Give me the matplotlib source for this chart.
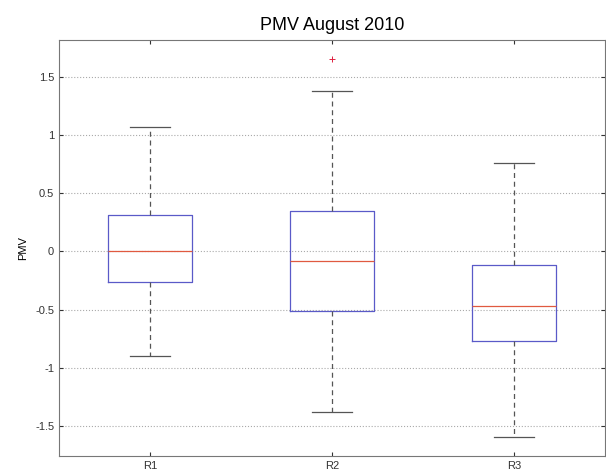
import matplotlib.pyplot as plt

plt.rcParams['font.family'] = ['Liberation Sans', 'DejaVu Sans']

labels = ["R1", "R2", "R3"]
whislo = [-0.90, -1.38, -1.59]
q1 = [-0.26, -0.51, -0.77]
med = [0.00, -0.08, -0.47]
q3 = [0.31, 0.35, -0.12]
whishi = [1.07, 1.38, 0.76]
fliers = [[], [1.65], []]

stats = []
for i in range(3):
    stats.append(dict(label=labels[i], whislo=whislo[i], q1=q1[i], med=med[i],
                      q3=q3[i], whishi=whishi[i], fliers=fliers[i]))

fig = plt.figure(figsize=(6.06, 4.70), dpi=100)
ax = fig.add_axes([59/606, 14/470, 546/606, 416/470])

ax.bxp(stats, positions=[1, 2, 3], widths=0.46,
       boxprops=dict(color="#5a5ac8", lw=0.9),
       medianprops=dict(color="#e05a40", lw=0.9),
       whiskerprops=dict(color="#555555", lw=0.9, ls=(0, (4, 3))),
       capprops=dict(color="#555555", lw=0.9),
       flierprops=dict(marker="+", markeredgecolor="#e02040", markersize=5,
                       markeredgewidth=0.7),
       capwidths=0.225)

ax.set_xlim(0.5, 3.5)
ax.set_ylim(-1.756, 1.816)
ax.set_yticks([-1.5, -1, -0.5, 0, 0.5, 1, 1.5])
ax.set_yticklabels(["-1.5", "-1", "-0.5", "0", "0.5", "1", "1.5"])
ax.yaxis.grid(True, ls=":", color="#aaaaaa", lw=0.8)
ax.set_axisbelow(True)
ax.tick_params(direction="in", right=True, top=True, labelsize=8, length=3,
               colors="#333333")
for s in ax.spines.values():
    s.set_color("#777777")
ax.set_ylabel("PMV", fontsize=8, labelpad=5)
ax.set_title("PMV August 2010", fontsize=13, pad=7)

fig.savefig("out.png", dpi=100)
